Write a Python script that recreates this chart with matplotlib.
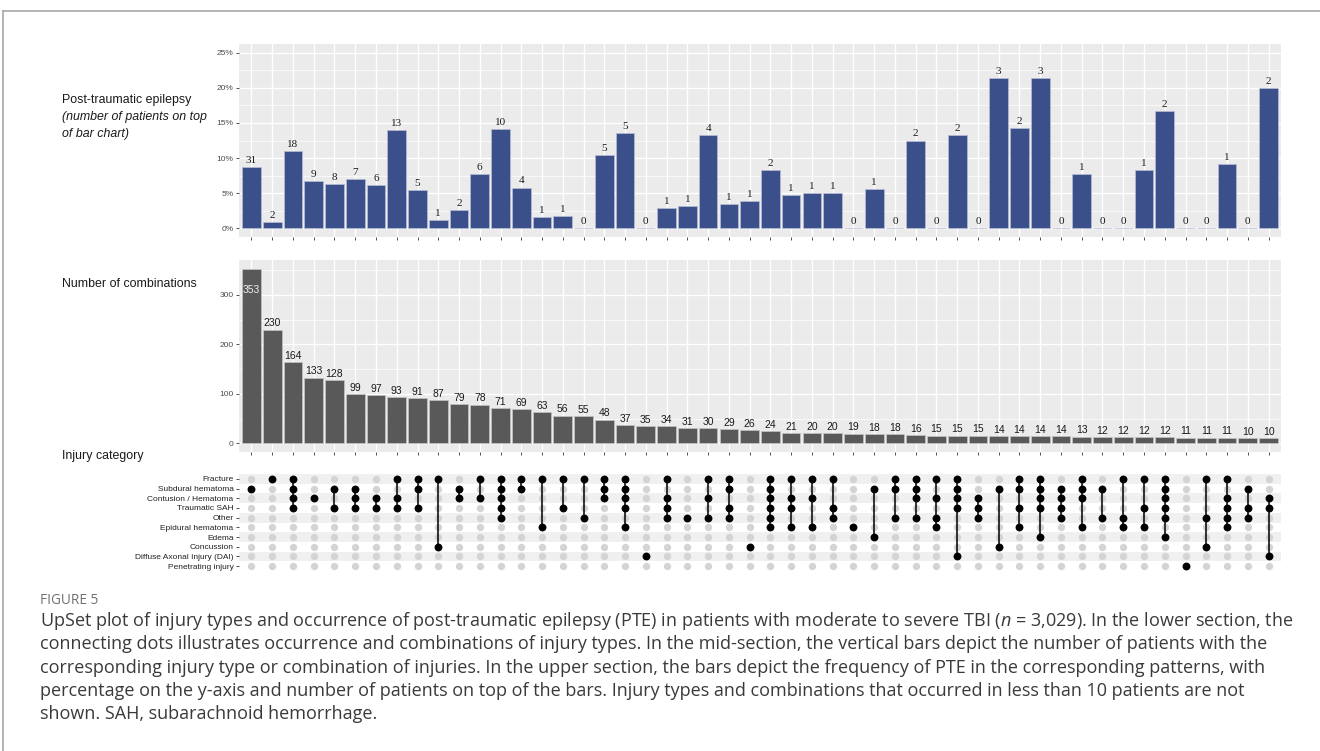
import matplotlib.pyplot as plt
import matplotlib.ticker as mticker
from matplotlib.lines import Line2D

plt.rcParams['font.family'] = ['Liberation Sans', 'DejaVu Sans']
plt.rcParams['mathtext.fontset'] = 'custom'
plt.rcParams['mathtext.rm'] = 'Open Sans'
plt.rcParams['mathtext.it'] = 'Open Sans:italic'

### データ
# 損傷カテゴリ(マトリクスの上から順)
categories = ["Fracture", "Subdural hematoma", "Contusion / Hematoma", "Traumatic SAH",
              "Other", "Epidural hematoma", "Edema", "Concussion",
              "Diffuse Axonal Injury (DAI)", "Penetrating injury"]

# 組み合わせごとの患者数
counts = [353, 230, 164, 133, 128, 99, 97, 93, 91, 87,
          79, 78, 71, 69, 63, 56, 55, 48, 37, 35,
          34, 31, 30, 29, 26, 24, 21, 20, 20, 19,
          18, 18, 16, 15, 15, 15, 14, 14, 14, 14,
          13, 12, 12, 12, 12, 11, 11, 11, 10, 10]

# 組み合わせごとのPTE患者数
pte = [31, 2, 18, 9, 8, 7, 6, 13, 5, 1,
       2, 6, 10, 4, 1, 1, 0, 5, 5, 0,
       1, 1, 4, 1, 1, 2, 1, 1, 1, 0,
       1, 0, 2, 0, 2, 0, 3, 2, 3, 0,
       1, 0, 0, 1, 2, 0, 0, 1, 0, 2]

# 組み合わせの構成(categoriesのindex)
# 0 Fracture, 1 Subdural, 2 Contusion, 3 SAH, 4 Other,
# 5 Epidural, 6 Edema, 7 Concussion, 8 DAI, 9 Penetrating
combos = [[1], [0], [0, 1, 2, 3], [2], [1, 3], [1, 2, 3], [2, 3], [0, 2, 3], [0, 1, 3], [0, 7],
          [1, 2], [0, 2], [0, 1, 2, 3, 4], [0, 1], [0, 5], [0, 3], [0, 4], [0, 1, 2], [0, 1, 2, 3, 5], [8],
          [0, 2, 3, 4], [4], [0, 2, 4], [0, 1, 3, 4], [7], [0, 1, 2, 3, 4, 5], [0, 2, 3, 5], [0, 2, 5], [0, 3, 4], [5],
          [1, 6], [0, 1, 4], [0, 1, 2, 4], [0, 2, 4, 5], [0, 1, 2, 3, 8], [2, 3, 4], [1, 7], [0, 1, 3, 5], [0, 1, 2, 3, 6], [1, 2, 3, 4],
          [0, 1, 2, 5], [1, 4], [0, 4, 5], [0, 3, 5], [0, 1, 2, 3, 4, 6], [9], [0, 4, 7], [0, 2, 3, 4, 5], [1, 3, 4], [2, 3, 8]]

caption_title = "FIGURE 5"
caption_lines = [
    "UpSet plot of injury types and occurrence of post-traumatic epilepsy (PTE) in patients with moderate to severe TBI ($n$ = 3,029). In the lower section, the",
    "connecting dots illustrates occurrence and combinations of injury types. In the mid-section, the vertical bars depict the number of patients with the",
    "corresponding injury type or combination of injuries. In the upper section, the bars depict the frequency of PTE in the corresponding patterns, with",
    "percentage on the y-axis and number of patients on top of the bars. Injury types and combinations that occurred in less than 10 patients are not",
    "shown. SAH, subarachnoid hemorrhage.",
]

W, H = 1320, 751
xs = list(range(1, len(counts) + 1))
pct = [p / c * 100 for p, c in zip(pte, counts)]


def box(x0, y0, x1, y1):
    # ピクセル座標 -> figure座標
    return [x0 / W, 1 - y1 / H, (x1 - x0) / W, (y1 - y0) / H]


def gg_panel(ax):
    # ggplot風の背景とグリッド
    ax.set_facecolor('#EBEBEB')
    for s in ax.spines.values():
        s.set_visible(False)
    ax.set_axisbelow(True)
    ax.set_xticks(xs)
    ax.xaxis.set_minor_locator(mticker.NullLocator())
    ax.grid(which='major', color='white', lw=1.0)
    ax.grid(which='minor', axis='y', color='white', lw=0.5)
    ax.tick_params(which='both', colors='#333333', labelcolor='#4D4D4D',
                   length=2.5, width=0.6, labelsize=6, pad=1.5)
    ax.tick_params(axis='x', labelbottom=False)
    ax.tick_params(which='minor', length=0)
    ax.set_xlim(0.4, len(xs) + 0.6)


fig = plt.figure(figsize=(W / 100, H / 100), dpi=100)

# 枠線
fig.add_artist(Line2D([3 / W, 1], [1 - 11 / H, 1 - 11 / H], color='#a8a8a8', lw=1.2))
fig.add_artist(Line2D([3 / W, 3 / W], [0, 1 - 11 / H], color='#a8a8a8', lw=1.2))

# 上段: PTEの割合
ax1 = fig.add_axes(box(239, 44, 1281, 237))
gg_panel(ax1)
ax1.bar(xs, pct, width=0.9, color='#3B4F8A', edgecolor='#b8bfd6', lw=0.5)
for x, p, n in zip(xs, pct, pte):
    ax1.annotate(str(n), (x, p), xytext=(0, 1.5), textcoords='offset points',
                 ha='center', va='bottom', fontsize=8, family='Liberation Serif', color='#1a1a1a')
ax1.set_ylim(-1.25, 26.25)
ax1.set_yticks([0, 5, 10, 15, 20, 25])
ax1.yaxis.set_minor_locator(mticker.MultipleLocator(2.5))
ax1.yaxis.set_major_formatter(mticker.FuncFormatter(lambda v, _: f"{v:.0f}%"))

# 中段: 組み合わせの患者数
ax2 = fig.add_axes(box(239, 260, 1281, 452))
gg_panel(ax2)
ax2.bar(xs, counts, width=0.9, color='#595959', edgecolor='#c4c4c4', lw=0.5)
for x, c in zip(xs, counts):
    if c == max(counts):
        ax2.annotate(str(c), (x, c), xytext=(0, -15), textcoords='offset points',
                     ha='center', va='center', fontsize=7.5, color='#eeeeee')
    else:
        ax2.annotate(str(c), (x, c), xytext=(0, 1), textcoords='offset points',
                     ha='center', va='bottom', fontsize=7.5, color='#1a1a1a')
ax2.set_ylim(-17.65, 370.65)
ax2.set_yticks([0, 100, 200, 300])
ax2.yaxis.set_minor_locator(mticker.MultipleLocator(50))

# 下段: 組み合わせマトリクス
ax3 = fig.add_axes(box(239, 474, 1281, 571))
for s in ax3.spines.values():
    s.set_visible(False)
nrow = len(categories)
for r in range(0, nrow, 2):
    ax3.axhspan(r - 0.5, r + 0.5, color='#F0F0F0', lw=0, zorder=0)
gx = [x for x in xs for _ in range(nrow)]
gy = [r for _ in xs for r in range(nrow)]
ax3.scatter(gx, gy, s=28, color='#D4D4D4', lw=0, zorder=1)
for x, members in zip(xs, combos):
    if len(members) > 1:
        ax3.plot([x, x], [min(members), max(members)], color='black', lw=1.1, zorder=2)
    ax3.scatter([x] * len(members), members, s=32, color='black', lw=0, zorder=3)
ax3.set_xlim(0.4, len(xs) + 0.6)
ax3.set_ylim(nrow - 0.5, -0.5)
ax3.set_xticks([])
ax3.set_yticks(range(nrow))
ax3.set_yticklabels(categories)
ax3.tick_params(axis='y', colors='#333333', labelcolor='#222222', length=2.5, width=0.6,
                labelsize=6, pad=1.5)

# 左側の見出し
fig.text(62 / W, 1 - 100 / H, "Post-traumatic epilepsy", fontsize=8.9, va='center', color='#1a1a1a')
fig.text(62 / W, 1 - 117 / H, "(number of patients on top", fontsize=8.9, va='center',
         style='italic', color='#1a1a1a')
fig.text(62 / W, 1 - 134 / H, "of bar chart)", fontsize=8.9, va='center', style='italic', color='#1a1a1a')
fig.text(62 / W, 1 - 284 / H, "Number of combinations", fontsize=8.9, va='center', color='#1a1a1a')
fig.text(62 / W, 1 - 456 / H, "Injury category", fontsize=8.9, va='center', color='#1a1a1a')

# キャプション
fig.text(40 / W, 1 - 600 / H, caption_title, fontsize=9.8, family='Open Sans', va='center', color='#707070')
for i, line in enumerate(caption_lines):
    fig.text(40 / W, 1 - (621 + i * 23.3) / H, line, fontsize=13.0, family='Open Sans',
             va='center', color='#3a3a3a')

fig.savefig("out.png", dpi=100)
